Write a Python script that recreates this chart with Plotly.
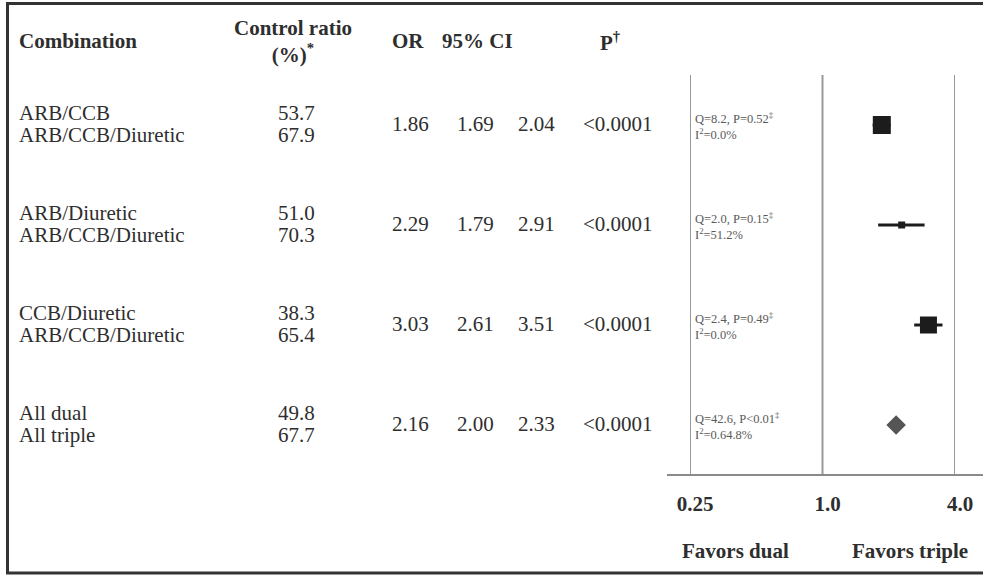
import plotly.graph_objects as go

# ---------------- data ----------------
combo_dual = ["ARB/CCB", "ARB/Diuretic", "CCB/Diuretic", "All dual"]
combo_triple = ["ARB/CCB/Diuretic", "ARB/CCB/Diuretic", "ARB/CCB/Diuretic", "All triple"]
ctrl_dual = ["53.7", "51.0", "38.3", "49.8"]
ctrl_triple = ["67.9", "70.3", "65.4", "67.7"]
or_vals = [1.86, 2.29, 3.03, 2.16]
ci_low = [1.69, 1.79, 2.61, 2.00]
ci_high = [2.04, 2.91, 3.51, 2.33]
p_vals = ["<0.0001", "<0.0001", "<0.0001", "<0.0001"]
het_q = ["Q=8.2, P=0.52<sup>‡</sup>", "Q=2.0, P=0.15<sup>‡</sup>",
         "Q=2.4, P=0.49<sup>‡</sup>", "Q=42.6, P<0.01<sup>‡</sup>"]
het_i2 = ["I<sup>2</sup>=0.0%", "I<sup>2</sup>=51.2%", "I<sup>2</sup>=0.0%", "I<sup>2</sup>=0.64.8%"]
rows = [1, 2, 3, 4]
x_ticks = [0.25, 1.0, 4.0]
x_tick_labels = ["0.25", "1.0", "4.0"]
favors = ["Favors dual", "Favors triple"]
headers = ["Combination", "Control ratio<br>(%)<sup>*</sup>", "OR", "95% CI", "P<sup>†</sup>"]

# ---------------- layout helpers ----------------
W, H = 983, 575
def px(x):
    return x / W
def py(y):
    return 1 - y / H

SERIF = "Liberation Serif, Times New Roman, serif"
TXT = "#2e2e2e"
FS = 21

fig = go.Figure()

# study rows (squares with CI whiskers)
fig.add_trace(go.Scatter(
    x=or_vals[:3], y=rows[:3], mode="markers",
    marker=dict(symbol="square", size=[18, 7, 17], color="#1c1c1c", opacity=1, line=dict(width=0)),
    error_x=dict(type="data", symmetric=False,
                 array=[h - o for h, o in zip(ci_high[:3], or_vals[:3])],
                 arrayminus=[o - l for o, l in zip(or_vals[:3], ci_low[:3])],
                 thickness=3, width=0, color="#1c1c1c"),
    showlegend=False, hoverinfo="skip"))

# summary diamond
fig.add_trace(go.Scatter(
    x=or_vals[3:], y=rows[3:], mode="markers",
    marker=dict(symbol="diamond", size=15, color="#555555", opacity=1, line=dict(width=0)),
    showlegend=False, hoverinfo="skip"))

annotations = []
# headers
hdr_x = [17, 293, 408, 477, 610]
hdr_anchor = ["left", "center", "center", "center", "center"]
for h, x, a in zip(headers, hdr_x, hdr_anchor):
    annotations.append(dict(x=px(x), y=py(41), xref="paper", yref="paper",
                            text="<b>" + h + "</b>", showarrow=False, xanchor=a, yanchor="middle",
                            font=dict(family=SERIF, size=FS, color=TXT), align="center"))

for i, r in enumerate(rows):
    common = dict(xref="paper", yref="y", showarrow=False, yanchor="middle",
                  font=dict(family=SERIF, size=FS, color=TXT))
    annotations.append(dict(x=px(17), y=r - 0.12, text=combo_dual[i], xanchor="left", **common))
    annotations.append(dict(x=px(17), y=r + 0.10, text=combo_triple[i], xanchor="left", **common))
    annotations.append(dict(x=px(296), y=r - 0.12, text=ctrl_dual[i], xanchor="center", **common))
    annotations.append(dict(x=px(296), y=r + 0.10, text=ctrl_triple[i], xanchor="center", **common))
    annotations.append(dict(x=px(410), y=r - 0.01, text=f"{or_vals[i]:.2f}", xanchor="center", **common))
    annotations.append(dict(x=px(475), y=r - 0.01, text=f"{ci_low[i]:.2f}", xanchor="center", **common))
    annotations.append(dict(x=px(536), y=r - 0.01, text=f"{ci_high[i]:.2f}", xanchor="center", **common))
    annotations.append(dict(x=px(618), y=r - 0.01, text=p_vals[i], xanchor="center", **common))
    small = dict(xref="paper", yref="y", showarrow=False, yanchor="middle", xanchor="left",
                 font=dict(family=SERIF, size=12.5, color="#5a5a5a"))
    annotations.append(dict(x=px(693), y=r - 0.075, text=het_q[i], **small))
    annotations.append(dict(x=px(693), y=r + 0.085, text=het_i2[i], **small))

# favors labels
annotations.append(dict(x=px(735), y=py(551), xref="paper", yref="paper", text="<b>" + favors[0] + "</b>",
                        showarrow=False, xanchor="center", yanchor="middle",
                        font=dict(family=SERIF, size=FS, color=TXT)))
annotations.append(dict(x=px(910), y=py(551), xref="paper", yref="paper", text="<b>" + favors[1] + "</b>",
                        showarrow=False, xanchor="center", yanchor="middle",
                        font=dict(family=SERIF, size=FS, color=TXT)))

shapes = [
    # outer frame
    dict(type="line", xref="paper", yref="paper", x0=px(7.5), x1=px(7.5), y0=py(3.5), y1=py(573),
         line=dict(color="#333333", width=3)),
    dict(type="line", xref="paper", yref="paper", x0=px(6), x1=1.0, y0=py(3.5), y1=py(3.5),
         line=dict(color="#333333", width=3)),
    dict(type="line", xref="paper", yref="paper", x0=px(6), x1=1.0, y0=py(573), y1=py(573),
         line=dict(color="#333333", width=3)),
    # axis baseline
    dict(type="line", xref="paper", yref="paper", x0=px(667), x1=1.0, y0=py(475), y1=py(475),
         line=dict(color="#8a8a8a", width=2)),
]
# vertical reference lines at tick values
for t in x_ticks:
    shapes.append(dict(type="line", xref="x", yref="paper", x0=t, x1=t, y0=py(475), y1=py(75),
                       line=dict(color="#999999", width=2), layer="below"))

fig.update_layout(
    width=W, height=H,
    margin=dict(l=0, r=0, t=0, b=0, pad=0, autoexpand=False),
    paper_bgcolor="white", plot_bgcolor="white",
    annotations=annotations, shapes=shapes,
    xaxis=dict(type="log", domain=[px(690), px(955)],
               range=[-0.60206, 0.60206],
               tickvals=x_ticks, ticktext=["<b>" + t + "</b>" for t in x_tick_labels],
               showgrid=False, automargin=False,
               zeroline=False, showline=False, ticks="",
               ticklabelstandoff=14, ticklabelshift=5,
               tickfont=dict(family=SERIF, size=FS, color=TXT)),
    yaxis=dict(domain=[py(475), py(75)], range=[4.5, 0.5], automargin=False,
               showgrid=False, zeroline=False, showticklabels=False, showline=False, ticks=""),
)

fig.write_html("out.html", config={"displayModeBar": False},
               post_script="document.body.style.margin='0';document.body.style.overflow='hidden';")
